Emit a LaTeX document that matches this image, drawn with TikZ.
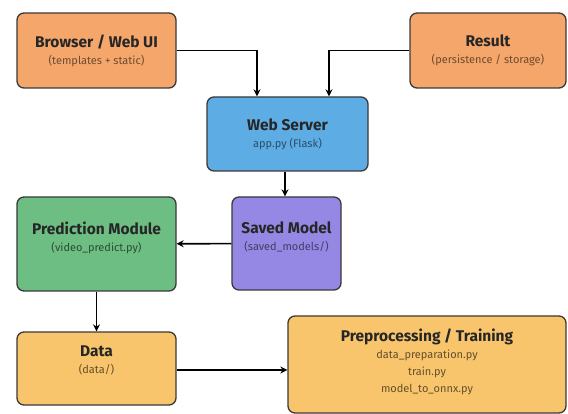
\documentclass[tikz,border=0pt]{standalone}
\usepackage{fontspec}
\setmainfont{Fira Sans}
\usetikzlibrary{positioning,arrows.meta}
\definecolor{uiorange}{HTML}{F4A66B}
\definecolor{srvblue}{HTML}{5EACE4}
\definecolor{predgreen}{HTML}{6DBE82}
\definecolor{modpurple}{HTML}{9488E4}
\definecolor{datayellow}{HTML}{F8C56C}
\definecolor{edgegray}{HTML}{3A3A3A}
\tikzset{
  flowarrow/.style={-{Stealth[length=7pt,width=7pt]}, line width=1.6pt},
  compbox/.style={draw=edgegray, line width=1.3pt, rounded corners=7pt, align=center, inner sep=2pt,
    font=\fontsize{11}{17}\selectfont},
  uibox/.style={compbox, fill=uiorange, text=uiorange!45!black},
  srvbox/.style={compbox, fill=srvblue, text=srvblue!45!black},
  predbox/.style={compbox, fill=predgreen, text=predgreen!40!black},
  modbox/.style={compbox, fill=modpurple, text=modpurple!45!black},
  databox/.style={compbox, fill=datayellow, text=datayellow!40!black}
}
\newcommand{\boxtitle}[1]{{\fontsize{15.5}{18}\selectfont\bfseries\color{black!85}#1}}

\begin{document}
\begin{tikzpicture}[x=1pt, y=-1pt]
  \useasboundingbox[fill=white] (0,0) rectangle (568,414);
  \node[uibox, minimum width=159pt, minimum height=75pt] (browser) at (96.5,50.5) {\boxtitle{Browser / Web UI}\\(templates + static)};
  \node[uibox, minimum width=156pt, minimum height=75pt] (result) at (488,50.5) {\boxtitle{Result}\\(persistence / storage)};
  \node[srvbox, minimum width=161pt, minimum height=74pt] (server) at (287.5,134) {\boxtitle{Web Server}\\app.py (Flask)};
  \node[modbox, minimum width=109pt, minimum height=93pt, text depth=14pt] (saved) at (286.5,243.5) {\boxtitle{Saved Model}\\(saved\_models/)};
  \node[predbox, minimum width=159pt, minimum height=94pt, text depth=14pt] (pred) at (96.5,244) {\boxtitle{Prediction Module}\\(video\_predict.py)};
  \node[databox, minimum width=159pt, minimum height=73pt, text depth=17pt] (data) at (96.5,368.5) {\boxtitle{Data}\\(data/)};
  \node[databox, minimum width=278pt, minimum height=97pt, text depth=8pt] (prep) at (427,364.5) {\boxtitle{Preprocessing / Training}\\data\_preparation.py\\train.py\\model\_to\_onnx.py};

  \draw[flowarrow] (browser.east) -| ([xshift=-30.5pt]server.north);
  \draw[flowarrow] (result.west) -| ([xshift=41.5pt]server.north);
  \draw[flowarrow] ([xshift=-2.5pt]server.south) -- ([xshift=-2.5pt]server.south |- saved.north);
  \draw[flowarrow] (saved) -- (pred);
  \draw[flowarrow] (pred) -- (data);
  \draw[flowarrow] ([yshift=-1.5pt]data.east) -- ([yshift=-1.5pt]data.east -| prep.west);
\end{tikzpicture}
\end{document}
